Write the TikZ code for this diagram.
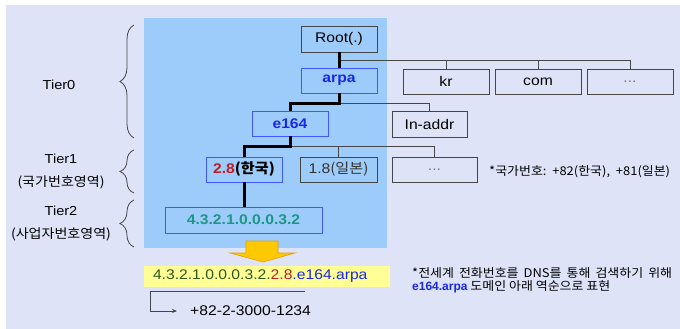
\documentclass[tikz,border=0pt]{standalone}
\usepackage{fontspec}
\setmainfont{Liberation Sans}[FakeStretch=1.12]
\newfontfamily\kr{Noto Sans CJK KR}[FakeStretch=1.08]
\usetikzlibrary{decorations.pathreplacing,arrows.meta,calc}
\definecolor{bglav}{RGB}{222,227,248}
\definecolor{skyblue}{RGB}{158,204,250}
\definecolor{borderblue}{RGB}{60,90,255}
\definecolor{boxgray}{RGB}{70,70,70}
\definecolor{linegray}{RGB}{70,70,70}
\definecolor{arpablue}{RGB}{25,40,230}
\definecolor{krred}{RGB}{190,30,40}
\definecolor{tealc}{RGB}{30,150,135}
\definecolor{resgreen}{RGB}{45,90,30}
\definecolor{resyellow}{RGB}{255,255,150}
\definecolor{gold}{RGB}{255,200,0}
\definecolor{goldedge}{RGB}{225,160,0}
\definecolor{dotgray}{RGB}{120,120,120}
\definecolor{textgray}{RGB}{50,50,50}
\begin{document}
\begin{tikzpicture}[x=1pt,y=-1pt,
  box/.style={draw=boxgray, line width=0.9pt, minimum height=25pt, inner sep=0pt,
    font=\fontsize{14}{16}\selectfont},
  bbox/.style={box, draw=borderblue},
  bold/.style={font=\fontsize{14}{16}\selectfont\bfseries},
  thickline/.style={line width=3pt, black},
  thinline/.style={line width=0.9pt, linegray},
  bracestyle/.style={decorate, decoration={brace, amplitude=14pt}, line width=0.8pt, draw=boxgray},
  tier/.style={font=\fontsize{13}{23}\selectfont, align=center, inner sep=0pt},
  note/.style={font=\kr\fontsize{12}{13}\selectfont, inner sep=0pt, anchor=west, align=left}]
\useasboundingbox (0,0) rectangle (680,329);
\fill[white] (0,0) rectangle (680,329);
\fill[bglav] (6,5) rectangle (680,329);
\fill[skyblue] (144,18) rectangle (387,248);

% boxes
\node[box, minimum width=76pt, minimum height=26pt] (root) at (339,39) {Root(.)};
\node[bbox, bold, text=arpablue, minimum width=76pt] (arpa) at (339,80.5) {arpa};
\node[bbox, bold, text=arpablue, minimum width=76pt] (e164) at (290,123.5) {e164};
\node[box, minimum width=86pt] (kr) at (446,81.5) {kr};
\node[box, minimum width=86pt] (com) at (538,81.5) {com};
\node[box, minimum width=86pt, text=dotgray] (dotsA) at (630,81.5) {...};
\node[box, minimum width=75pt, minimum height=26pt] (inaddr) at (429.5,124) {In-addr};
\node[bbox, bold, minimum width=76pt] (kor) at (244,169.5) {\textcolor{krred}{2.8}{\kr(한국)}};
\node[box, minimum width=77pt, text=textgray] (jpn) at (338.5,169.5) {1.8{\kr(일본)}};
\node[box, minimum width=85pt, text=dotgray] (dotsB) at (434.5,169.5) {...};
\node[bbox, bold, text=tealc, minimum width=157pt, minimum height=26pt] (isp) at (243.5,220) {4.3.2.1.0.0.0.3.2};

% branch points
\coordinate (b0) at (339,60.5);
\coordinate (b1) at (339,103);
\coordinate (b2) at (290,146);

% thin connectors
\draw[thinline] (b0) -| (kr.north);
\draw[thinline] (b0) -| (com.north);
\draw[thinline] (b0) -| (dotsA.north);
\draw[thinline] (b1) -| (inaddr.north);
\draw[thinline] (b2) -| (jpn.north);
\draw[thinline] (b2) -| (dotsB.north);

% thick connectors
\draw[thickline] (root.south) -- (arpa.north);
\draw[thickline] (arpa.south) |- (b1) -| (e164.north);
\draw[thickline] (e164.south) |- (b2) -| (kor.north);
\draw[thickline] (kor.south) -- (kor.south |- isp.north);

% tiers
\node[tier] (t0) at (59,85) {Tier0};
\node[tier] (t1) at (61,171.5) {Tier1\\{\kr(국가번호영역)}};
\node[tier] (t2) at (61,224) {Tier2\\{\kr(사업자번호영역)}};
\draw[bracestyle] (134,138) -- (134,25);
\draw[bracestyle] (134,193) -- (134,150);
\draw[bracestyle] (134,247) -- (134,200);

% note
\node[note] (n1) at (489,172) {*국가번호:\ \ +82(한국),\ \ +81(일본)};

% big arrow
\draw[fill=gold, draw=goldedge, line width=0.6pt]
  (246,241) -- (278,241) -- (278,253) -- (295,253) -- (263,262) -- (230,253) -- (246,253) -- cycle;

% result
\node[fill=resyellow, minimum height=21pt, inner xsep=9pt, inner ysep=0pt, text width=228pt, align=left,
  font=\fontsize{14}{16}\selectfont] (res) at (267,276.5)
  {\textcolor{resgreen}{4.3.2.1.0.0.0.3.2.}\textcolor{krred}{2.8}\textcolor{arpablue}{.e164.arpa}};
\coordinate (c1) at (150,291);
\coordinate (c2) at (305,291);
\draw[line width=0.7pt, linegray] (c1) -- (c2);
\node[inner sep=0pt, anchor=west, font=\fontsize{14}{16}\selectfont] (phone) at (190,311) {+82-2-3000-1234};
\draw[line width=0.7pt, linegray, -{Stealth[length=5pt,width=4pt]}, shorten >=13pt] (c1) |- (phone.west);

\node[note] (n2) at (412,280.5) {\spaceskip=0.42em plus 0.05em\relax *전세계 전화번호를 DNS를 통해 검색하기 위해\\{\fontspec{Liberation Sans}\bfseries\color{arpablue}e164.arpa} 도메인 아래 역순으로 표현};
\end{tikzpicture}
\end{document}
